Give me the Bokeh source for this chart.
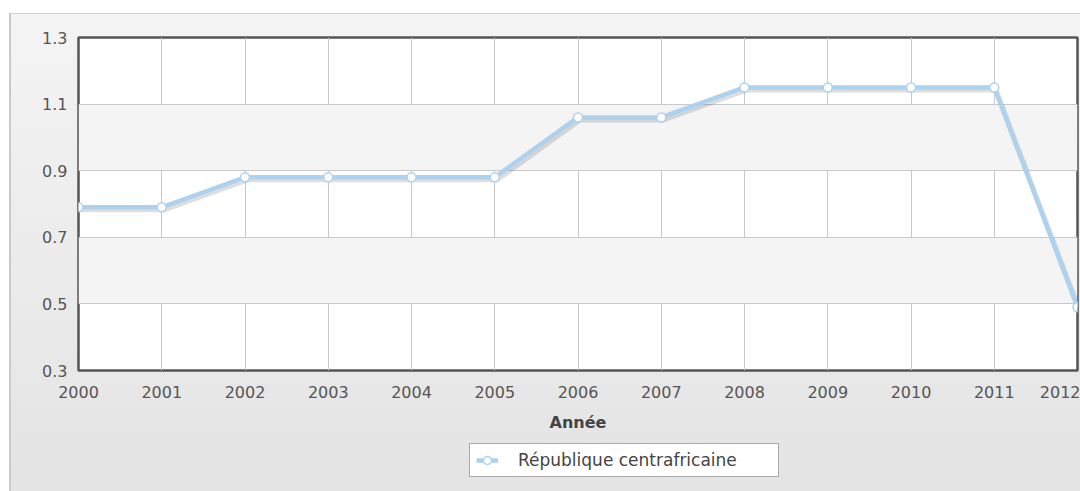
from bokeh.plotting import figure
from bokeh.layouts import column
from bokeh.models import FixedTicker, Legend, LegendItem, Range1d
from bokeh.transform import dodge
from bokeh.embed import file_html
from bokeh.resources import INLINE

years = [2000, 2001, 2002, 2003, 2004, 2005, 2006, 2007, 2008, 2009, 2010, 2011, 2012]
values = [0.79, 0.79, 0.88, 0.88, 0.88, 0.88, 1.06, 1.06, 1.15, 1.15, 1.15, 1.15, 0.49]
y_ticks = [0.3, 0.5, 0.7, 0.9, 1.1, 1.3]
series_name = "République centrafricaine"
x_label = "Année"

FONT = "DejaVu Sans"
LINE = "#acd2ef"

p = figure(width=1080, height=440, output_backend="svg", toolbar_location=None,
           x_range=Range1d(2000, 2012), y_range=Range1d(0.3, 1.3),
           min_border_left=78, min_border_right=3, min_border_top=37, min_border_bottom=70,
           background_fill_color="white", border_fill_alpha=0)

p.outline_line_color = "#555555"
p.outline_line_width = 2.5

# grids
p.xgrid.ticker = FixedTicker(ticks=years)
p.ygrid.ticker = FixedTicker(ticks=y_ticks)
for g in (p.xgrid, p.ygrid):
    g.grid_line_color = "#c9c9c9"
    g.grid_line_width = 1
p.ygrid.band_fill_color = "#f4f4f4"
p.ygrid.band_fill_alpha = 1.0

# axes
p.xaxis.ticker = FixedTicker(ticks=years)
p.yaxis.ticker = FixedTicker(ticks=y_ticks)
for ax in (p.xaxis, p.yaxis):
    ax.axis_line_color = None
    ax.major_tick_line_color = None
    ax.minor_tick_line_color = None
    ax.major_label_text_font = FONT
    ax.major_label_text_font_size = "16px"
    ax.major_label_text_color = "#555555"
p.xaxis.major_label_standoff = 9
p.yaxis.major_label_standoff = 5
p.xaxis.axis_label = x_label
p.xaxis.axis_label_text_font = FONT
p.xaxis.axis_label_text_font_style = "bold"
p.xaxis.axis_label_text_font_size = "16px"
p.xaxis.axis_label_text_color = "#444444"
p.xaxis.axis_label_standoff = 12

# shadow of the series line
p.line(x=dodge("x", 0.03, range=p.x_range), y=dodge("y", -0.009, range=p.y_range),
       source=dict(x=years, y=values), line_color="black", line_alpha=0.13, line_width=4)

p.line(years, values, line_color=LINE, line_width=4.5, line_join="round")
p.scatter(years, values, size=9, fill_color="white", line_color=LINE, line_width=1.5)

# legend strip below the chart (its frame is aligned with the chart frame by the column)
pl = figure(width=1080, height=51, output_backend="svg", toolbar_location=None,
            x_range=Range1d(0, 1), y_range=Range1d(0, 1),
            x_axis_location=None, y_axis_location=None,
            min_border_left=0, min_border_right=0, min_border_top=0, min_border_bottom=0,
            background_fill_alpha=0, border_fill_alpha=0, outline_line_color=None)
pl.grid.visible = False
# same series, outside this strip's ranges: only its legend glyph shows
lg_line = pl.line(years, values, line_color=LINE, line_width=4.5)
lg_pts = pl.scatter(years, values, size=9, fill_color="white", line_color=LINE, line_width=1.5)

legend = Legend(items=[LegendItem(label=series_name, renderers=[lg_line, lg_pts])],
                orientation="horizontal", location=(391, 14),
                label_text_font=FONT, label_text_font_size="17px", label_text_color="#444444",
                glyph_width=22, label_standoff=20, label_width=254, padding=6, spacing=0,
                border_line_color="#555555", border_line_width=1.5,
                background_fill_color="white", background_fill_alpha=1,
                margin=0)
pl.add_layout(legend, "center")

layout = column(p, pl, spacing=0, styles={
    "background": ("linear-gradient(#cacaca,#cacaca) 9px 13px / 2px 100% no-repeat, "
                   "linear-gradient(#d2d2d2,#d2d2d2) 9px 13px / 100% 1px no-repeat, "
                   "linear-gradient(to bottom, #f4f4f4, #e3e3e3) 9px 13px / 100% 100% no-repeat, "
                   "white")
})

open("out.html", "w").write(file_html(layout, INLINE))
